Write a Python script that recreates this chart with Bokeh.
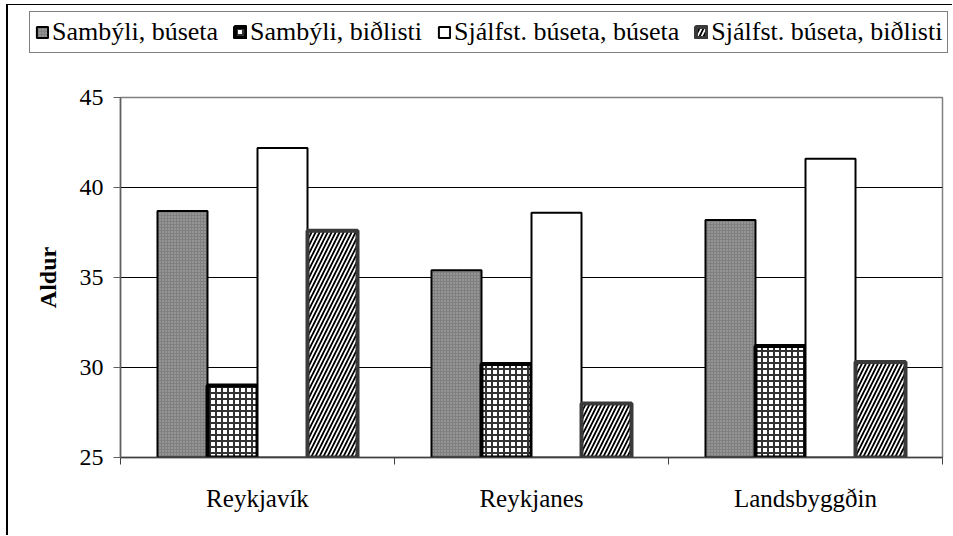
from bokeh.plotting import figure
from bokeh.models import Legend, LegendItem, FixedTicker, Range1d
from bokeh.layouts import column
from bokeh.embed import file_html
from bokeh.resources import INLINE

# ---- data ----
categories = ["Reykjavík", "Reykjanes", "Landsbyggðin"]
series_names = ["Sambýli, búseta", "Sambýli, biðlisti",
                "Sjálfst. búseta, búseta", "Sjálfst. búseta, biðlisti"]
sambyli_buseta = [38.7, 35.4, 38.2]
sambyli_bidlisti = [29.0, 30.2, 31.2]
sjalfst_buseta = [42.2, 38.6, 41.6]
sjalfst_bidlisti = [37.6, 28.0, 30.3]
y_ticks = [25, 30, 35, 40, 45]
y_min, y_max = 25, 45
y_axis_label = "Aldur"

FONT = "Liberation Serif"
W = 944

styles = [
    dict(fill_color="#808080", line_color="black", line_width=2,
         hatch_pattern="dot", hatch_color="#b4b4b4", hatch_scale=3, hatch_weight=1),
    dict(fill_color="white", line_color="black", line_width=4,
         hatch_pattern="cross", hatch_color="#333333", hatch_scale=6, hatch_weight=2),
    dict(fill_color="white", line_color="black", line_width=2),
    dict(fill_color="white", line_color="#3a3a3a", line_width=4,
         hatch_pattern="right_diagonal_line", hatch_color="black", hatch_scale=8,
         hatch_weight=1.8),
]
series = [sambyli_buseta, sambyli_bidlisti, sjalfst_buseta, sjalfst_bidlisti]
bw = 0.1825


def bar_x(k):
    return [i + 0.5 + (k - 1.5) * bw for i in range(len(categories))]


# ---- main chart ----
p = figure(width=W, height=470, output_backend="svg", toolbar_location=None,
           x_range=Range1d(0, len(categories)), y_range=Range1d(y_min, y_max),
           min_border_left=112, min_border_right=10, min_border_top=32,
           min_border_bottom=78)
p.background_fill_color = "white"
p.border_fill_color = "white"
p.outline_line_color = "#808080"
p.outline_line_width = 1.5

for k, vals in enumerate(series):
    p.vbar(x=bar_x(k), top=vals, bottom=y_min, width=bw, **styles[k])

p.xgrid.visible = False
p.ygrid.ticker = FixedTicker(ticks=y_ticks)
p.ygrid.grid_line_color = "black"
p.ygrid.grid_line_width = 1

ya = p.yaxis[0]
ya.ticker = FixedTicker(ticks=y_ticks)
ya.axis_line_color = "#606060"
ya.axis_line_width = 1.5
ya.major_tick_line_color = "#606060"
ya.major_tick_in = 0
ya.major_tick_out = 7
ya.minor_tick_line_color = None
ya.major_label_text_font = FONT
ya.major_label_text_font_size = "24px"
ya.major_label_text_color = "black"
ya.major_label_standoff = 10
ya.axis_label = y_axis_label
ya.axis_label_text_font = FONT
ya.axis_label_text_font_style = "bold"
ya.axis_label_text_font_size = "24px"
ya.axis_label_text_color = "black"
ya.axis_label_standoff = 16

xa = p.xaxis[0]
centers = [i + 0.5 for i in range(len(categories))]
bounds = [float(i) for i in range(len(categories) + 1)]
xa.ticker = FixedTicker(ticks=centers, minor_ticks=bounds)
xa.major_label_overrides = {c: name for c, name in zip(centers, categories)}
xa.axis_line_color = "#404040"
xa.axis_line_width = 1.5
xa.major_tick_line_color = None
xa.major_tick_out = 7
xa.minor_tick_line_color = "#404040"
xa.minor_tick_in = 0
xa.minor_tick_out = 7
xa.major_label_text_font = FONT
xa.major_label_text_font_size = "25px"
xa.major_label_text_color = "black"
xa.major_label_standoff = 20

# ---- legend strip ----
pl = figure(width=W, height=60, output_backend="svg", toolbar_location=None,
            x_range=Range1d(0, len(categories)), y_range=Range1d(y_min, y_max),
            x_axis_location=None, y_axis_location=None,
            min_border_left=0, min_border_right=0, min_border_top=0,
            min_border_bottom=0)
pl.grid.visible = False
pl.outline_line_color = None
pl.background_fill_color = "white"
pl.border_fill_color = "white"
leg_renderers = []
for k, vals in enumerate(series):
    r = pl.vbar(x=bar_x(k), top=vals, bottom=y_min, width=bw, **styles[k])
    r.visible = False
    leg_renderers.append(r)

legend = Legend(
    items=[LegendItem(label=n, renderers=[r]) for n, r in zip(series_names, leg_renderers)],
    orientation="horizontal", location=(21, 12),
    glyph_width=14, glyph_height=14, label_standoff=3, spacing=15, padding=5,
    margin=0, click_policy="none",
    inactive_fill_alpha=0.0,
    label_text_font=FONT, label_text_font_size="26px", label_text_color="black",
    border_line_color="black", border_line_width=1, background_fill_color="white",
    background_fill_alpha=1.0,
)
pl.add_layout(legend, "center")

for fig in (pl, p):
    try:
        fig.frame_align = False
    except Exception:
        pass

layout = column(pl, p, spacing=0)
layout.styles = {"margin-left": "6px", "margin-top": "4px",
                 "border-left": "2px solid black", "border-top": "1px solid black"}

open("out.html", "w").write(file_html(layout, INLINE))
